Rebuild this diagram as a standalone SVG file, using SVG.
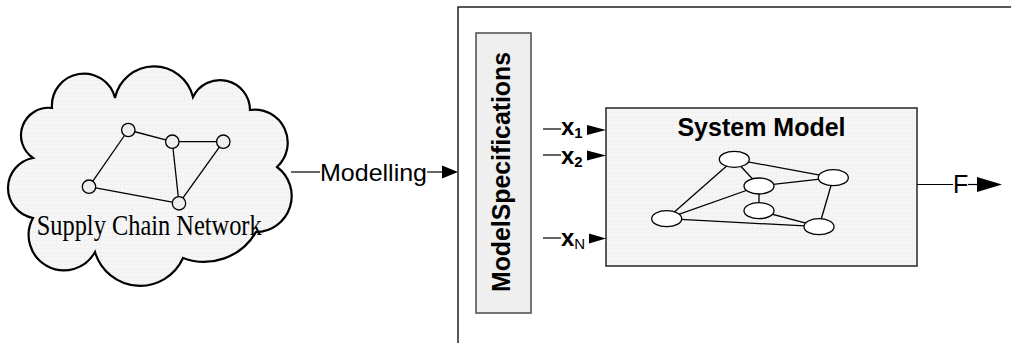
<svg xmlns="http://www.w3.org/2000/svg" width="1011" height="343" viewBox="0 0 1011 343">
<style>
.lbl{font-family:"Liberation Sans",Arial,sans-serif;fill:#000}
.b{font-weight:bold}
.edge{stroke:#000;stroke-width:1.3;fill:none}
.conn{stroke:#000;stroke-width:1.2;fill:none}
.cn{fill:#eeeeee;stroke:#000;stroke-width:1.3}
.en{fill:#fff;stroke:#000;stroke-width:1.3}
.head{fill:#000}
</style>
<defs>
<pattern id="grid" width="4" height="4" patternUnits="userSpaceOnUse">
<rect width="4" height="4" fill="#f6f6f6"/>
<path d="M4 0H0V4" fill="none" stroke="#e8e8e8" stroke-width="0.6"/>
</pattern>
</defs>
<rect width="1011" height="343" fill="#fff"/>

<g id="cloud">
<path d="M52 108 A32 32 0 0 1 115 98 A40 40 0 0 1 193 97 A30 30 0 0 1 250 110 A33 33 0 0 1 277 167 A36 36 0 0 1 256 232 A60 60 0 0 1 183 258 A47 47 0 0 1 95 252 A35 35 0 0 1 33 218 A30.5 30.5 0 0 1 33 158 A27.5 27.5 0 0 1 52 108 Z" fill="url(#grid)" stroke="#000" stroke-width="2.2" stroke-linejoin="miter"/>
<g>
<line class="edge" x1="128.3" y1="130" x2="172.3" y2="141.7"/>
<line class="edge" x1="172.3" y1="141.7" x2="223.3" y2="141.7"/>
<line class="edge" x1="128.3" y1="130" x2="89" y2="186.7"/>
<line class="edge" x1="89" y1="186.7" x2="179" y2="203.3"/>
<line class="edge" x1="172.3" y1="141.7" x2="179" y2="203.3"/>
<line class="edge" x1="223.3" y1="141.7" x2="179" y2="203.3"/>
<circle class="cn" cx="128.3" cy="130" r="6.7"/>
<circle class="cn" cx="172.3" cy="141.7" r="6.7"/>
<circle class="cn" cx="223.3" cy="141.7" r="6.7"/>
<circle class="cn" cx="89" cy="186.7" r="6.7"/>
<circle class="cn" cx="179" cy="203.3" r="6.7"/>
</g>
<text x="36.7" y="234.5" font-family="'Liberation Serif','Times New Roman',serif" font-size="29" textLength="225" lengthAdjust="spacingAndGlyphs">Supply Chain Network</text>
</g>

<g id="container">
<path d="M458 343 V7 H1011" fill="none" stroke="#222" stroke-width="1.5"/>
</g>

<g id="model-specifications">
<rect x="476" y="33" width="55" height="280" fill="#efefef" stroke="#555" stroke-width="1.6"/>
<text class="lbl b" font-size="25" text-anchor="middle" transform="translate(509.5,172) rotate(-90)" textLength="240" lengthAdjust="spacingAndGlyphs">ModelSpecifications</text>
</g>

<g id="system-model">
<rect x="606" y="108" width="311" height="158" fill="url(#grid)" stroke="#333" stroke-width="1.6"/>
<text class="lbl b" x="761.5" y="135.5" font-size="25" text-anchor="middle">System Model</text>
<g>
<line class="edge" x1="734.3" y1="159.3" x2="666.7" y2="218.7"/>
<line class="edge" x1="734.3" y1="159.3" x2="759" y2="186"/>
<line class="edge" x1="734.3" y1="159.3" x2="833.3" y2="177.7"/>
<line class="edge" x1="759" y1="186" x2="666.7" y2="218.7"/>
<line class="edge" x1="759" y1="186" x2="833.3" y2="177.7"/>
<line class="edge" x1="759" y1="186" x2="759" y2="210.7"/>
<line class="edge" x1="759" y1="210.7" x2="819" y2="226.7"/>
<line class="edge" x1="666.7" y1="218.7" x2="819" y2="226.7"/>
<line class="edge" x1="833.3" y1="177.7" x2="819" y2="226.7"/>
<ellipse class="en" cx="734.3" cy="159.3" rx="15" ry="8"/>
<ellipse class="en" cx="759" cy="186" rx="15" ry="8"/>
<ellipse class="en" cx="833.3" cy="177.7" rx="15" ry="8"/>
<ellipse class="en" cx="759" cy="210.7" rx="15" ry="8"/>
<ellipse class="en" cx="666.7" cy="218.7" rx="15" ry="8"/>
<ellipse class="en" cx="819" cy="226.7" rx="15" ry="8"/>
</g>
</g>

<g id="connectors">
<line class="conn" x1="291" y1="172" x2="320" y2="172"/>
<text class="lbl" x="320" y="180.5" font-size="24" textLength="107" lengthAdjust="spacingAndGlyphs">Modelling</text>
<line class="conn" x1="427" y1="172" x2="443" y2="172"/>
<path class="head" d="M442 165.5 L458 172 L442 178.5 Z"/>

<line class="conn" x1="543" y1="129" x2="561" y2="129"/>
<text class="lbl b" x="561" y="135" font-size="24">x<tspan font-size="15" dy="3">1</tspan></text>
<path class="head" d="M587 125 L606 130 L587 135 Z"/>

<line class="conn" x1="543" y1="155" x2="561" y2="155"/>
<text class="lbl b" x="561" y="164" font-size="24">x<tspan font-size="15" dy="3">2</tspan></text>
<path class="head" d="M587 150.5 L606 155.5 L587 160.5 Z"/>

<line class="conn" x1="543" y1="238" x2="561" y2="238"/>
<text class="lbl b" x="561" y="246" font-size="24">x<tspan font-size="15" font-weight="normal" dy="3">N</tspan></text>
<path class="head" d="M589 233.5 L606 238.5 L589 243.5 Z"/>

<line class="conn" x1="917" y1="184.5" x2="953" y2="184.5"/>
<text class="lbl" x="953" y="193" font-size="25">F</text>
<line class="conn" x1="968" y1="184.5" x2="978" y2="184.5"/>
<path class="head" d="M977 177 L1002 184.5 L977 192 Z"/>
</g>
</svg>
